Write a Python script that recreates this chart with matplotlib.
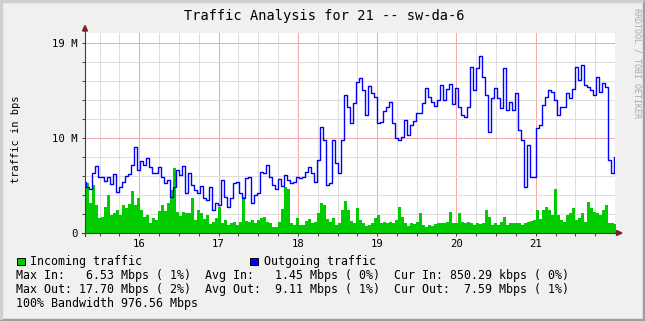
import numpy as np
import matplotlib
matplotlib.use('Agg')
import matplotlib.pyplot as plt
from matplotlib.patches import Rectangle, Polygon
from matplotlib.lines import Line2D

plt.rcParams['font.family'] = 'DejaVu Sans Mono'

# traffic samples in Mbps, one every ~55 minutes starting at day 15.315
outgoing = [
    5.07, 4.63, 4.37, 6.03, 6.7, 5.63, 5.63, 5.23, 5.63, 4.9, 5.9, 4.13, 4.63, 5.13, 5.7, 5.9,
    6.8, 8.63, 6.3, 7.23, 6.8, 7.47, 6.63, 6.03, 5.97, 6.57, 5.63, 4.97, 5.3, 3.63, 4.63,
    6.3, 5.8, 6.7, 3.97, 5.97, 4.8, 4.3, 3.97, 4.7, 3.47, 3.3, 4.63, 2.3, 2.97, 2.8, 5.3,
    3.63, 2.63, 3.47, 4.97, 5.13, 3.97, 3.47, 5.47, 5.63, 2.97, 3.8, 3.97, 6.13, 6.03,
    6.8, 5.63, 4.8, 4.37, 5.37, 4.7, 5.8, 5.3, 5.03, 5.13, 5.63, 5.47, 5.63, 6.13, 6.57, 5.97,
    5.13, 7.3, 10.63, 9.3, 4.8, 4.97, 9.3, 6.97, 5.97, 9.3, 13.8, 12.57, 10.97, 12.97,
    15.13, 15.47, 14.3, 11.8, 14.7, 13.97, 13.63, 11.03, 11.13, 12.23, 12.63, 13.13, 10.97,
    9.47, 9.3, 9.63, 11.3, 9.8, 10.8, 11.23, 11.97, 11.97, 12.97, 14.47, 13.63, 13.13, 12.7,
    13.3, 14.8, 13.3,
    14.37, 14.9, 12.9, 14.47, 12.63, 11.8, 11.57, 12.57, 16.63, 14.3, 16.47, 17.7, 15.63,
    13.8, 10.13, 13.47, 14.47, 13.47, 12.47, 16.47, 12.3, 13.13, 12.3, 14.03, 10.3, 9.3,
    4.63, 8.8, 5.63, 5.63,
    10.47, 10.8, 12.8, 13.63, 14.3, 14.13, 13.3, 11.8, 12.57, 12.63, 14.03, 13.47, 14.37,
    16.63, 15.3, 16.8, 14.8, 14.63, 14.3, 13.8, 15.63, 14.13, 14.97, 14.63, 7.3, 5.97, 7.59,
]
incoming = [
    2.4, 5.0, 3.0, 4.8, 2.8, 1.5, 1.6, 2.6, 3.8, 1.8, 2.0, 2.3, 1.8, 2.8, 2.5, 2.9, 4.2, 2.8,
    3.5, 2.3, 1.6, 1.8, 1.0, 1.5, 1.3, 2.2, 2.8, 2.2, 3.0, 4.3, 6.53,
    2.13, 1.7, 2.13, 1.97, 1.97, 3.47, 1.3, 2.3, 1.97, 1.37, 1.8, 0.87, 1.13, 1.47, 2.63,
    1.03, 1.3, 0.8, 1.03, 1.13, 0.8, 1.13, 3.6, 1.2, 1.13, 1.3, 1.03, 1.3, 1.47, 1.63,
    1.13, 1.03, 0.63, 0.57, 1.13, 2.37, 4.63, 4.37, 0.97, 0.8, 1.47, 0.8, 0.8, 1.23, 1.37,
    0.97, 1.13, 1.97, 3.03, 2.8, 1.37, 1.13, 1.47, 0.8, 1.03, 2.3, 3.23, 2.3, 1.23, 0.97,
    2.47, 1.3, 0.97, 0.7, 0.8, 0.97, 1.47, 1.8, 1.03, 1.13, 1.03, 1.13, 0.97, 1.3, 2.63,
    1.63, 1.03, 0.7, 0.97, 0.9, 1.13, 2.03, 0.8, 0.63, 0.8, 0.7, 0.9, 1.03, 0.97, 1.03,
    1.13, 2.13, 1.03, 0.97, 2.03, 1.13, 1.03, 1.13, 0.97, 0.8, 1.03, 0.9, 1.03, 2.3, 1.63,
    0.8, 0.97, 0.8, 1.13, 1.63, 0.8, 0.97, 1.03, 0.97, 0.97, 0.8, 1.03, 1.13, 1.23, 1.3,
    2.3, 1.37, 2.3, 2.63, 2.3, 1.8, 4.37, 1.8, 1.3, 1.13, 1.8, 1.97, 2.47, 1.3, 1.47, 2.03,
    1.13, 3.13, 2.47, 2.13, 2.03, 1.8, 2.3, 2.8, 0.97, 0.97, 0.85,
]
start_day = 15.315
step_days = 3 / 79.3

day_ticks = [16, 17, 18, 19, 20, 21]
y_ticks = [0, 9.5, 19]
y_tick_labels = ['0', '10 M', '19 M']

title = 'Traffic Analysis for 21 -- sw-da-6'
legend_in = 'Incoming traffic'
legend_out = 'Outgoing traffic'
stats_rows = [
    'Max In:   6.53 Mbps ( 1%)  Avg In:   1.45 Mbps ( 0%)  Cur In: 850.29 kbps ( 0%)',
    'Max Out: 17.70 Mbps ( 2%)  Avg Out:  9.11 Mbps ( 1%)  Cur Out:  7.59 Mbps ( 1%)',
    '100% Bandwidth 976.56 Mbps',
]

W, H = 645, 321


def fx(px):
    return px / W


def fy(py):
    return 1 - py / H


fig = plt.figure(figsize=(W / 100, H / 100), dpi=100, facecolor='#F0F0F0')
ax = fig.add_axes([fx(85), fy(233), fx(615) - fx(85), fy(33) - fy(233)])
ax.set_facecolor('white')

t = start_day + np.arange(len(outgoing)) * step_days
ax.fill_between(t, 0, incoming, step='mid', color='#00CC00', lw=0, zorder=2)
ax.plot(t, outgoing, drawstyle='steps-mid', color='#0000FF', lw=1.0, zorder=3)

ax.set_xlim(start_day, 22.0)
ax.set_ylim(0, 20)

ax.set_xticks(day_ticks)
ax.set_xticks(np.arange(15.5, 22, 0.25), minor=True)
ax.set_yticks(y_ticks, y_tick_labels)
ax.set_yticks(np.arange(0, 20, 1.9), minor=True)
ax.set_axisbelow(True)
ax.grid(which='minor', color='#DEDEDE', lw=0.75)
ax.grid(which='major', color='#F2AAAA', lw=0.75)

for s in ax.spines.values():
    s.set_visible(False)
ax.tick_params(which='both', length=2, width=0.7, color='#3F3F3F', labelsize=7.7)
ax.tick_params(axis='x', which='both', pad=2.5)
ax.tick_params(axis='y', which='both', pad=3.6)

ax.set_ylabel('traffic in bps', fontsize=7.5, va='center')
ax.yaxis.set_label_coords((16 - 85) / 530, (233 - 139) / 200)

# axis lines with arrows
axis_col = '#3F3F3F'
fig.add_artist(Line2D([fx(82), fx(618)], [fy(233), fy(233)], color=axis_col, lw=0.8))
fig.add_artist(Line2D([fx(85), fx(85)], [fy(236), fy(30)], color=axis_col, lw=0.8))
fig.add_artist(Polygon([[fx(622), fy(233)], [fx(616.5), fy(230.5)], [fx(616.5), fy(235.5)]],
                       closed=True, color='#7F1F1F', transform=fig.transFigure))
fig.add_artist(Polygon([[fx(85), fy(25.5)], [fx(82.5), fy(31)], [fx(87.5), fy(31)]],
                       closed=True, color='#7F1F1F', transform=fig.transFigure))

fig.text(fx(324.5), fy(16), title, fontsize=9.8, ha='center', va='center')
fig.text(fx(637), fy(8), 'RRDTOOL / TOBI OETIKER', fontsize=6, color='#A8A8A8',
         rotation=270, ha='center', va='top')

# legend
fig.add_artist(Rectangle((fx(16.5), fy(264.5)), fx(8), 7 / H, facecolor='#00CC00',
                         edgecolor='black', lw=0.7, transform=fig.transFigure))
fig.add_artist(Rectangle((fx(250), fy(264.5)), fx(8), 7 / H, facecolor='#0000FF',
                         edgecolor='black', lw=0.7, transform=fig.transFigure))
fig.text(fx(30), fy(261), legend_in, fontsize=8.4, va='center')
fig.text(fx(263.5), fy(261), legend_out, fontsize=8.4, va='center')
for i, row in enumerate(stats_rows):
    fig.text(fx(16.5), fy(275.3 + 14 * i), row, fontsize=8.4, va='center')

# 3d frame
fig.add_artist(Rectangle((0, 0), 1, 2 / H, color='#9E9E9E', transform=fig.transFigure))
fig.add_artist(Rectangle((1 - 2 / W, 0), 2 / W, 1, color='#9E9E9E', transform=fig.transFigure))
fig.add_artist(Rectangle((0, 1 - 2 / H), 1 - 2 / W, 2 / H, color='#CFCFCF', transform=fig.transFigure))
fig.add_artist(Rectangle((0, 2 / H), 2 / W, 1, color='#CFCFCF', transform=fig.transFigure))

fig.savefig('out.png', dpi=100, facecolor=fig.get_facecolor())
